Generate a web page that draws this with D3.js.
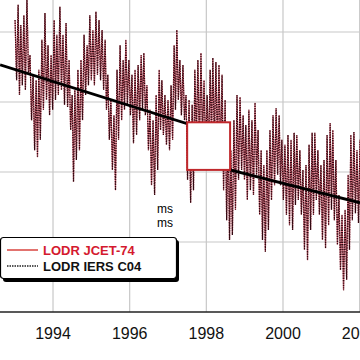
<!DOCTYPE html>
<html><head><meta charset="utf-8">
<script src="https://cdn.jsdelivr.net/npm/d3@7"></script>
<style>html,body{margin:0;padding:0;background:#fff;}svg{display:block;}</style>
</head><body>
<script>
const years = [1993.01,1993.09,1993.16,1993.24,1993.32,1993.40,1993.48,1993.56,1993.63,1993.71,1993.79,1993.87,1993.95,1994.03,1994.10,1994.18,1994.26,1994.34,1994.42,1994.50,1994.57,1994.65,1994.73,1994.81,1994.89,1994.96,1995.04,1995.12,1995.20,1995.28,1995.36,1995.43,1995.51,1995.59,1995.67,1995.75,1995.83,1995.90,1995.98,1996.06,1996.14,1996.22,1996.30,1996.37,1996.45,1996.53,1996.61,1996.69,1996.77,1996.84,1996.92,1997.00,1997.08,1997.16,1997.23,1997.31,1997.39,1997.47,1997.55,1997.63,1997.70,1997.78,1997.86,1997.94,1998.02,1998.10,1998.17,1998.25,1998.33,1998.41,1998.49,1998.57,1998.64,1998.72,1998.80,1998.88,1998.96,1999.03,1999.11,1999.19,1999.27,1999.35,1999.43,1999.50,1999.58,1999.66,1999.74,1999.82,1999.90,1999.97,2000.05,2000.13,2000.21,2000.29,2000.36,2000.44,2000.52,2000.60,2000.68,2000.76,2000.83,2000.91,2000.99,2001.07,2001.15,2001.23,2001.30,2001.38,2001.46,2001.54,2001.62,2001.70,2001.77,2001.85,2001.93,2002.01];
const lodHigh = [3.17,3.39,3.10,3.24,3.46,2.67,2.39,2.31,2.46,2.89,3.27,2.81,2.67,3.17,2.96,3.36,2.96,3.13,2.60,2.10,2.17,2.46,2.60,2.96,2.81,3.24,3.03,3.29,3.17,3.03,2.89,2.39,2.03,1.81,2.46,2.81,2.60,2.89,2.60,2.39,2.46,2.53,2.67,2.70,2.24,1.89,1.74,2.10,2.46,2.31,2.10,2.03,2.24,2.81,3.03,2.60,2.53,2.10,2.03,1.96,2.46,2.60,2.70,2.31,2.10,2.46,2.63,2.57,2.53,2.39,2.03,1.60,1.31,1.74,2.10,2.07,1.81,1.67,1.89,1.74,1.99,1.60,1.31,1.10,1.31,1.60,1.81,1.91,1.81,1.46,1.39,1.53,1.46,1.56,1.53,1.31,1.03,1.10,1.39,1.56,1.56,1.31,1.10,1.17,1.53,1.70,1.60,1.17,0.67,0.39,0.46,0.96,1.53,1.57,1.31,1.46];
const lodLow = [2.31,2.10,2.24,2.17,2.39,1.74,1.31,1.21,1.46,1.89,2.03,1.81,1.89,2.03,2.10,2.17,1.96,1.93,1.60,0.86,1.17,1.31,1.74,2.10,2.24,2.31,2.24,2.39,2.31,2.17,1.89,1.46,1.03,0.74,1.46,1.74,1.89,1.96,1.81,1.41,1.53,1.74,1.89,1.81,1.31,0.81,0.67,1.03,1.60,1.53,1.39,1.31,1.46,1.89,2.03,1.81,1.74,0.89,0.56,0.74,1.46,1.31,1.46,1.31,1.31,1.46,1.39,1.31,1.17,0.74,0.31,0.03,0.10,0.46,0.89,1.03,0.89,0.60,0.74,0.67,0.96,0.39,0.03,-0.14,0.17,0.60,0.81,0.96,0.81,0.60,0.39,0.24,0.17,0.53,0.60,0.39,-0.11,-0.26,0.17,0.39,0.60,0.39,0.03,-0.09,0.24,0.46,0.31,-0.04,-0.40,-0.69,-0.54,-0.11,0.31,0.41,0.27,0.39];
const trendYears = [1992.62, 1997.50, 1998.62, 2002.01];
const trendValues = [2.53, 1.69, 1.03, 0.56];
const boxYears = [1997.50, 1998.62];
const boxValues = [1.71, 1.03];
const xTicks = [1994, 1996, 1998, 2000, 2002];
const yGrid = [3, 2, 1, 0];
const yAxisValue = -1;
const legendLabels = ["LODR JCET-74", "LODR IERS C04"];
const unitLabels = ["ms", "ms"];

const W = 360, H = 360;
const svg = d3.select("body").append("svg").attr("width", W).attr("height", H);
const x = d3.scaleLinear().domain([1992.617, 2002.009]).range([0, 360]);
const y = d3.scaleLinear().domain([-1, 3]).range([312, 32]);

// grid
svg.append("g").selectAll("line.h").data(yGrid).join("line")
  .attr("x1", 0).attr("x2", W).attr("y1", d => y(d)).attr("y2", d => y(d))
  .attr("stroke", "#c8c8c8").attr("stroke-width", 1.2);
svg.append("g").selectAll("line.v").data(xTicks).join("line")
  .attr("x1", d => x(d)).attr("x2", d => x(d)).attr("y1", 0).attr("y2", y(yAxisValue))
  .attr("stroke", "#c8c8c8").attr("stroke-width", 1.2);

// zigzag series from read envelope
const pts = [];
years.forEach((t, i) => {
  pts.push([t, lodHigh[i]]);
  const tn = i < years.length - 1 ? (t + years[i + 1]) / 2 : t + 0.04;
  pts.push([tn, lodLow[i]]);
});
const line = d3.line().x(d => x(d[0])).y(d => y(d[1]));
svg.append("path").datum(pts).attr("d", line)
  .attr("fill", "none").attr("stroke", "#d85a6c").attr("stroke-width", 1.2).attr("opacity", 0.9);
svg.append("path").datum(pts).attr("d", line)
  .attr("fill", "none").attr("stroke", "#300810").attr("stroke-width", 1.25)
  .attr("stroke-dasharray", "1.4,1");

// trend
svg.append("path").datum(trendYears.map((t, i) => [t, trendValues[i]])).attr("d", line)
  .attr("fill", "none").attr("stroke", "#000").attr("stroke-width", 2.8);

// box
svg.append("rect")
  .attr("x", x(boxYears[0])).attr("y", y(boxValues[0]))
  .attr("width", x(boxYears[1]) - x(boxYears[0])).attr("height", y(boxValues[1]) - y(boxValues[0]))
  .attr("fill", "#fff").attr("stroke", "#c0282c").attr("stroke-width", 2);

// axis line
svg.append("line").attr("x1", 0).attr("x2", W).attr("y1", y(yAxisValue)).attr("y2", y(yAxisValue))
  .attr("stroke", "#222").attr("stroke-width", 1.5);

// tick labels
svg.append("g").selectAll("text").data(xTicks).join("text")
  .attr("x", d => x(d)).attr("y", 339).attr("text-anchor", "middle")
  .attr("font-family", "'Liberation Sans', Arial, sans-serif").attr("font-size", 16)
  .attr("fill", "#111").text(d => d);

// ms labels
svg.append("g").selectAll("text").data(unitLabels).join("text")
  .attr("x", 157).attr("y", (d, i) => 213 + i * 14)
  .attr("font-family", "'Liberation Sans', Arial, sans-serif").attr("font-size", 12)
  .attr("fill", "#000").text(d => d);

// legend
const lg = svg.append("g");
lg.append("rect").attr("x", 3).attr("y", 240).attr("width", 176).attr("height", 42).attr("rx", 3)
  .attr("fill", "#000");
lg.append("rect").attr("x", 0.5).attr("y", 237.5).attr("width", 176).attr("height", 41).attr("rx", 3)
  .attr("fill", "#fff").attr("stroke", "#000").attr("stroke-width", 1.2);
lg.append("line").attr("x1", 7).attr("x2", 38).attr("y1", 250).attr("y2", 250)
  .attr("stroke", "#d8453f").attr("stroke-width", 1.5);
lg.append("line").attr("x1", 7).attr("x2", 38).attr("y1", 266).attr("y2", 266)
  .attr("stroke", "#222").attr("stroke-width", 1.5).attr("stroke-dasharray", "1.5,1");
lg.selectAll("text").data(legendLabels).join("text")
  .attr("x", 43).attr("y", (d, i) => 254.5 + i * 16)
  .attr("font-family", "'Liberation Sans', Arial, sans-serif").attr("font-size", 13).attr("font-weight", "bold")
  .attr("fill", (d, i) => i === 0 ? "#d4192e" : "#111").text(d => d);
</script>
</body></html>
